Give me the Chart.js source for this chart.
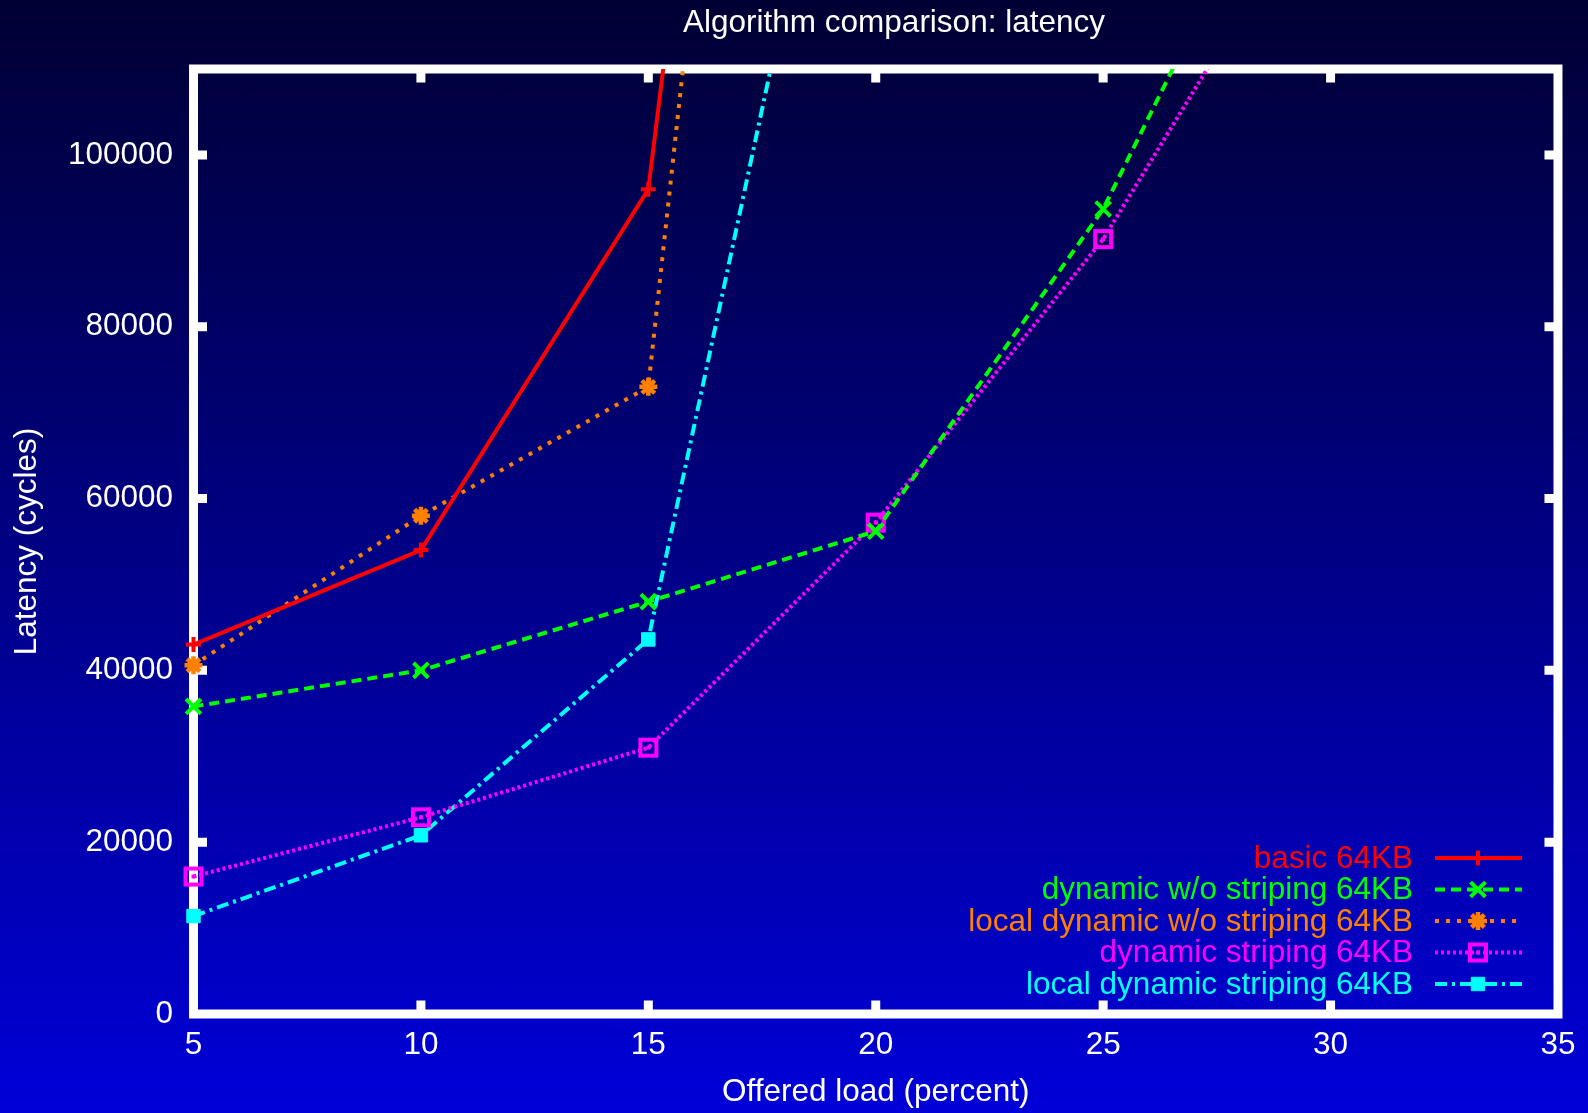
<!DOCTYPE html>
<html>
<head>
<meta charset="utf-8">
<title>Algorithm comparison: latency</title>
<script src="https://cdn.jsdelivr.net/npm/chart.js@4.4.1/dist/chart.umd.min.js"></script>
<style>
  html, body { margin: 0; padding: 0; }
  body {
    width: 1588px; height: 1113px; overflow: hidden;
    background: linear-gradient(to bottom, #000034 0%, #0000d8 100%);
  }
  #wrap { position: relative; width: 1588px; height: 1113px; }
</style>
</head>
<body>
<div id="wrap"><canvas id="chart"></canvas></div>
<script>
// Offered load (percent) for each measured point
const loads = [5, 10, 15, 20, 25, 30];

// Latency in cycles per algorithm
const basic64 = [43000, 54000, 96000, 310000];
const dynNoStripe64 = [35800, 40000, 48000, 56200, 93700, 147000];
const localDynNoStripe64 = [40600, 58000, 73000, 316000];
const dynStripe64 = [16000, 22900, 31000, 57200, 90200, 133500];
const localDynStripe64 = [11400, 20800, 43600, 167000];

const seriesNames = [
  'basic 64KB',
  'dynamic w/o striping 64KB',
  'local dynamic w/o striping 64KB',
  'dynamic striping 64KB',
  'local dynamic striping 64KB'
];

const chartTitle = 'Algorithm comparison: latency';
const xTicks = [5, 10, 15, 20, 25, 30, 35];
const yTicks = [0, 20000, 40000, 60000, 80000, 100000];

const FONT = '"Liberation Sans", Arial, Helvetica, sans-serif';
const FS = 31.5;

function pts(values) {
  return values.map((v, i) => ({ x: loads[i], y: v }));
}

// Hollow square with a dot in the middle
function boxDot(color) {
  const c = document.createElement('canvas');
  c.width = 22; c.height = 22;
  const g = c.getContext('2d');
  g.strokeStyle = color; g.lineWidth = 4;
  g.strokeRect(3, 3, 16, 16);
  g.fillStyle = color;
  g.fillRect(9, 9, 4, 4);
  return c;
}

const datasets = [
  { label: seriesNames[0], data: pts(basic64), borderColor: '#ff0000', backgroundColor: '#ff0000',
    borderDash: [], pointStyle: 'cross', pointRadius: 7.5, pointBorderWidth: 4 },
  { label: seriesNames[1], data: pts(dynNoStripe64), borderColor: '#00ff00', backgroundColor: '#00ff00',
    borderDash: [10, 6], pointStyle: 'crossRot', pointRadius: 10.5, pointBorderWidth: 4 },
  { label: seriesNames[2], data: pts(localDynNoStripe64), borderColor: '#ff8000', backgroundColor: '#ff8000',
    borderDash: [4, 7], pointStyle: 'star', pointRadius: 9, pointBorderWidth: 4.5 },
  { label: seriesNames[3], data: pts(dynStripe64), borderColor: '#ff00ff', backgroundColor: '#ff00ff',
    borderDash: [3, 3], pointStyle: boxDot('#ff00ff'), pointRadius: 11, pointBorderWidth: 0 },
  { label: seriesNames[4], data: pts(localDynStripe64), borderColor: '#00ffff', backgroundColor: '#00ffff',
    borderDash: [12, 5, 3, 5], pointStyle: 'rect', pointRadius: 9.5, pointBorderWidth: 1 }
].map(d => Object.assign(d, {
  borderWidth: 4, tension: 0, fill: false, pointHoverRadius: d.pointRadius,
  clip: { left: 20, top: 0, right: 0, bottom: 20 }
}));

// White frame with inward ticks on all four sides, plus the heading
const framePlugin = {
  id: 'frame',
  beforeDatasetsDraw(chart) {
    const { ctx, chartArea: a, scales: { x, y } } = chart;
    ctx.save();
    ctx.fillStyle = '#ffffff';
    ctx.font = FS + 'px ' + FONT;
    ctx.textAlign = 'center';
    ctx.textBaseline = 'middle';
    ctx.fillText(chartTitle, 894, 23);

    ctx.strokeStyle = '#ffffff';
    ctx.lineWidth = 9;
    ctx.strokeRect(a.left, a.top, a.right - a.left, a.bottom - a.top);
    ctx.lineCap = 'butt';
    const L = 13.5;
    ctx.beginPath();
    x.ticks.forEach(t => {
      const px = x.getPixelForValue(t.value);
      if (px <= a.left + 1 || px >= a.right - 1) return;
      ctx.moveTo(px, a.bottom); ctx.lineTo(px, a.bottom - L);
      ctx.moveTo(px, a.top); ctx.lineTo(px, a.top + L);
    });
    y.ticks.forEach(t => {
      const py = y.getPixelForValue(t.value);
      if (py <= a.top + 1 || py >= a.bottom - 1) return;
      ctx.moveTo(a.left, py); ctx.lineTo(a.left + L, py);
      ctx.moveTo(a.right, py); ctx.lineTo(a.right - L, py);
    });
    ctx.stroke();
    ctx.restore();
  }
};

function drawMarker(ctx, ds, cx, cy) {
  const style = ds.pointStyle;
  const r = ds.pointRadius;
  ctx.save();
  ctx.setLineDash([]);
  ctx.strokeStyle = ds.borderColor;
  ctx.fillStyle = ds.backgroundColor;
  ctx.lineWidth = ds.pointBorderWidth;
  if (typeof style !== 'string') {
    ctx.drawImage(style, cx - style.width / 2, cy - style.height / 2);
  } else {
    ctx.beginPath();
    if (style === 'cross' || style === 'star') {
      ctx.moveTo(cx - r, cy); ctx.lineTo(cx + r, cy);
      ctx.moveTo(cx, cy - r); ctx.lineTo(cx, cy + r);
    }
    if (style === 'crossRot' || style === 'star') {
      const o = r * Math.SQRT1_2;
      ctx.moveTo(cx - o, cy - o); ctx.lineTo(cx + o, cy + o);
      ctx.moveTo(cx - o, cy + o); ctx.lineTo(cx + o, cy - o);
    }
    if (style === 'rect') {
      const s = r * Math.SQRT1_2;
      ctx.rect(cx - s, cy - s, 2 * s, 2 * s);
      ctx.fill();
    }
    ctx.stroke();
  }
  ctx.restore();
}

// Key in the lower right: right-aligned text, then a line sample with its marker
const keyPlugin = {
  id: 'key',
  afterDraw(chart) {
    const ctx = chart.ctx;
    const textRight = 1413, lineL = 1435, lineR = 1522, mid = 1478;
    const top = 858, step = 31.5;
    ctx.save();
    ctx.font = FS + 'px ' + FONT;
    ctx.textAlign = 'right';
    ctx.textBaseline = 'middle';
    chart.data.datasets.forEach((ds, i) => {
      const yy = top + i * step;
      ctx.fillStyle = ds.borderColor;
      ctx.fillText(ds.label, textRight, yy + 1);
      ctx.strokeStyle = ds.borderColor;
      ctx.lineWidth = ds.borderWidth;
      ctx.setLineDash(ds.borderDash);
      ctx.beginPath();
      ctx.moveTo(lineL, yy); ctx.lineTo(lineR, yy);
      ctx.stroke();
      drawMarker(ctx, ds, mid, yy);
    });
    ctx.restore();
  }
};

Chart.defaults.font.family = FONT;
Chart.defaults.color = '#ffffff';

new Chart(document.getElementById('chart'), {
  type: 'line',
  data: { datasets },
  options: {
    responsive: true,
    maintainAspectRatio: false,
    animation: false,
    events: [],
    layout: { padding: { left: 0, right: 27, top: 69, bottom: 0 } },
    plugins: {
      legend: { display: false },
      tooltip: { enabled: false },
      title: { display: false }
    },
    scales: {
      x: {
        type: 'linear',
        min: 5, max: 35,
        afterBuildTicks(s) { s.ticks = xTicks.map(v => ({ value: v })); },
        afterFit(s) { s.height = 99; },
        grid: { display: false, drawTicks: false },
        border: { display: false },
        ticks: { color: '#ffffff', font: { size: FS }, padding: 12.5, maxRotation: 0 },
        title: { display: true, text: 'Offered load (percent)', color: '#ffffff',
                 font: { size: FS, lineHeight: 1.2 }, padding: { top: 0, bottom: 2 } }
      },
      y: {
        type: 'linear',
        min: 0, max: 110000,
        afterBuildTicks(s) { s.ticks = yTicks.map(v => ({ value: v })); },
        afterFit(s) { s.width = 193.5; },
        grid: { display: false, drawTicks: false },
        border: { display: false },
        ticks: { color: '#ffffff', font: { size: FS }, padding: 20.5,
                 callback: v => String(v) },
        title: { display: true, text: 'Latency (cycles)', color: '#ffffff',
                 font: { size: FS, lineHeight: 1.2 }, padding: { top: 8, bottom: 0 } }
      }
    }
  },
  plugins: [framePlugin, keyPlugin]
});
</script>
</body>
</html>
